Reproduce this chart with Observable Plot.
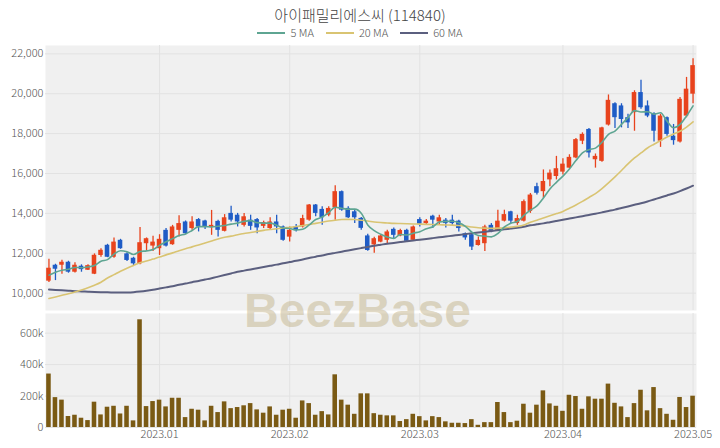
<!DOCTYPE html>
<html>
<head>
<meta charset="utf-8">
<script src="https://cdn.jsdelivr.net/npm/d3@7"></script>
<script src="https://cdn.jsdelivr.net/npm/@observablehq/plot@0.6"></script>
<style>
  body { margin: 0; background: #fff; }
  #wrap { position: relative; width: 720px; height: 448px; overflow: hidden; font-family: "Noto Sans CJK KR", "Noto Sans", sans-serif; }
  #title { position: absolute; top: 4px; left: 0; width: 720px; text-align: center; font-size: 15px; line-height: 22px; color: #444; font-weight: 300; }
  #legend { position: absolute; top: 25px; left: 0; width: 720px; display: flex; justify-content: center; gap: 12px; font-size: 11px; line-height: 14px; color: #555; font-weight: 300; }
  #legend .sw { display: inline-block; width: 28px; height: 2px; vertical-align: middle; margin-right: 5px; position: relative; top: -1px; }
  #charts { position: absolute; top: 42px; left: 0; }
  #charts svg { display: block; }
  #mark { position: absolute; left: 0; width: 715px; top: 287px; text-align: center; font-family: "Liberation Sans", Arial, sans-serif; font-weight: bold; font-size: 48px; line-height: 48px; color: rgba(195, 180, 140, 0.5); pointer-events: none; }
</style>
</head>
<body>
<div id="wrap">
  <div id="title">아이패밀리에스씨 (114840)</div>
  <div id="legend"></div>
  <div id="charts"></div>
  <div id="mark">BeezBase</div>
</div>
<script>
// Trading calendar (KRX), 2022-12-07 .. 2023-05-02
const firstDay = "2022-12-07";
const lastDay = "2023-05-02";
const holidays = ["2022-12-30", "2023-01-23", "2023-01-24", "2023-03-01", "2023-05-01"];

// Daily prices (KRW)
const open = [
  10600, 11400, 11400, 11550, 11050, 11350, 11150, 10950, 11890, 12400,
  11800, 12650, 11970, 11750, 11470, 12480, 12360, 12230, 13150, 12430,
  13150, 13570, 13240, 13690, 13620, 13300, 13600, 13100, 14000, 13910,
  13400, 13660, 13690, 13350, 13240, 13570, 13320, 12810, 13320, 13320,
  13660, 14420, 14200, 13910, 14280, 15090, 14250, 14080, 13750, 12870,
  12420, 12560, 12650, 13200, 12870, 13150, 12650, 13690, 13490, 13860,
  13570, 13660, 13660, 13610, 12980, 12930, 12390, 12480, 13400, 13150,
  13610, 14080, 13490, 13610, 14100, 15340, 15090, 15680, 15850, 16070,
  16270, 16780, 17620, 18210, 16690, 16610, 18430, 19500, 19390, 18800,
  19050, 20060, 19390, 19000, 17620, 18800, 17870, 17580, 18880, 19980
];
const high = [
  11700, 11450, 11650, 11600, 11520, 11420, 11420, 11970, 12230, 12450,
  12770, 12700, 12020, 11800, 13290, 12770, 12850, 12930, 13240, 13400,
  13880, 13620, 13830, 13740, 13660, 14150, 13650, 13940, 14360, 14000,
  14000, 13910, 13740, 13610, 13780, 13910, 13370, 13320, 13440, 13910,
  14450, 14450, 14330, 14330, 15390, 15120, 14330, 14160, 13800, 12950,
  12800, 12900, 13150, 13270, 13200, 13200, 13370, 13780, 13690, 13910,
  13910, 13740, 13910, 13660, 13020, 12980, 12820, 13400, 13490, 14160,
  14160, 14110, 13910, 14670, 15000, 15510, 16180, 16180, 16860, 16740,
  16940, 17750, 18040, 18260, 16980, 18320, 19940, 19550, 19500, 18970,
  20150, 20680, 19640, 19050, 18970, 18830, 18460, 19810, 20820, 21750
];
const low = [
  10540, 10630, 10950, 11000, 11010, 11050, 11130, 10930, 11800, 11780,
  11750, 12200, 11590, 11380, 11420, 12140, 12090, 11890, 12310, 12400,
  12820, 12930, 13150, 13070, 13190, 12900, 12820, 13070, 13570, 13320,
  13320, 13150, 12980, 13240, 13150, 12980, 12600, 12560, 13070, 13270,
  13610, 13830, 13400, 13830, 13660, 14110, 13740, 13490, 13150, 12100,
  12000, 12530, 12480, 12730, 12830, 12560, 12600, 13320, 13400, 13240,
  13400, 13270, 13400, 13070, 12650, 12140, 12360, 12090, 13030, 13100,
  13570, 13490, 13400, 13570, 14000, 14920, 14750, 15340, 15680, 15930,
  16240, 16740, 17450, 16780, 16270, 16570, 18380, 18260, 18290, 18260,
  18120, 19220, 18800, 17580, 17310, 17870, 17420, 17530, 18800, 19500
];
const close = [
  11250, 11200, 11550, 11050, 11400, 11180, 11380, 11900, 12150, 11800,
  12560, 12230, 11640, 11470, 12530, 12730, 12560, 12700, 12360, 13320,
  13490, 12980, 13570, 13320, 13320, 13400, 13150, 13780, 13660, 13570,
  13830, 13350, 13270, 13540, 13570, 13320, 12650, 13150, 13150, 13740,
  14420, 14000, 13780, 14250, 15090, 14160, 13780, 13780, 13250, 12140,
  12730, 12870, 13070, 12900, 13140, 12600, 13320, 13460, 13610, 13660,
  13780, 13490, 13490, 13240, 12770, 12310, 12650, 13320, 13070, 13610,
  13940, 13610, 13740, 14590, 14920, 15010, 15600, 16020, 16240, 16470,
  16810, 17700, 17960, 17030, 16860, 18290, 19670, 18800, 18710, 18540,
  20060, 19300, 18880, 18120, 18880, 17960, 17650, 19720, 20230, 21410
];
// Daily volume (shares)
const volume = [
  340000, 190000, 174000, 70000, 78000, 59000, 44000, 161000, 80000, 129000,
  135000, 86000, 135000, 42000, 685000, 133000, 165000, 174000, 131000, 186000,
  186000, 63000, 116000, 110000, 42000, 135000, 95000, 163000, 120000, 127000,
  138000, 152000, 112000, 91000, 131000, 78000, 110000, 116000, 59000, 169000,
  152000, 78000, 101000, 80000, 335000, 174000, 142000, 84000, 214000, 214000,
  88000, 78000, 74000, 74000, 38000, 50000, 84000, 69000, 42000, 69000,
  63000, 36000, 27000, 27000, 25000, 50000, 14000, 31000, 31000, 159000,
  95000, 31000, 40000, 148000, 91000, 142000, 233000, 150000, 135000, 103000,
  205000, 197000, 116000, 195000, 180000, 180000, 276000, 154000, 131000, 63000,
  152000, 237000, 106000, 254000, 120000, 84000, 46000, 191000, 127000, 199000
];
// Moving averages of the close
const ma5 = [
  10900, 11050, 11150, 11200, 11290, 11276, 11312, 11382, 11602, 11682,
  11958, 12128, 12076, 11940, 12086, 12120, 12186, 12398, 12576, 12734,
  12886, 12970, 13144, 13336, 13336, 13318, 13352, 13394, 13462, 13512,
  13598, 13638, 13536, 13512, 13512, 13410, 13270, 13246, 13168, 13202,
  13422, 13692, 13818, 14038, 14308, 14256, 14212, 14212, 14012, 13422,
  13136, 12954, 12812, 12742, 12942, 12916, 13006, 13084, 13226, 13330,
  13566, 13600, 13606, 13532, 13354, 13060, 12892, 12858, 12824, 12992,
  13318, 13510, 13594, 13898, 14160, 14374, 14772, 15228, 15558, 15868,
  16228, 16648, 17036, 17194, 17272, 17568, 17962, 18130, 18466, 18802,
  19156, 19082, 19098, 18980, 19048, 18628, 18298, 18466, 18888, 19394
];
const ma20 = [
  9730, 9810, 9890, 9970, 10060, 10160, 10270, 10400, 10550, 10760,
  10930, 11100, 11250, 11390, 11520, 11610, 11710, 11810, 11920, 12020,
  12130, 12230, 12320, 12420, 12520, 12620, 12720, 12800, 12860, 12930,
  12990, 13040, 13100, 13150, 13190, 13230, 13270, 13300, 13340, 13390,
  13440, 13500, 13560, 13620, 13660, 13690, 13700, 13690, 13660, 13620,
  13570, 13540, 13520, 13500, 13490, 13480, 13470, 13460, 13450, 13440,
  13430, 13420, 13410, 13390, 13360, 13320, 13280, 13260, 13250, 13260,
  13280, 13310, 13350, 13420, 13560, 13660, 13770, 13880, 13990, 14100,
  14260, 14420, 14600, 14800, 14990, 15240, 15530, 15830, 16150, 16480,
  16780, 17030, 17280, 17470, 17650, 17830, 17980, 18120, 18330, 18590
];
const ma60 = [
  10180, 10160, 10140, 10120, 10100, 10085, 10070, 10060, 10050, 10040,
  10035, 10030, 10035, 10050, 10080, 10120, 10170, 10230, 10290, 10350,
  10420, 10480, 10550, 10610, 10680, 10750, 10830, 10910, 10990, 11070,
  11130, 11190, 11250, 11310, 11370, 11430, 11500, 11560, 11620, 11690,
  11760, 11830, 11890, 11960, 12020, 12080, 12140, 12200, 12260, 12320,
  12380, 12430, 12480, 12520, 12560, 12600, 12640, 12680, 12720, 12760,
  12800, 12840, 12880, 12920, 12960, 13000, 13040, 13080, 13120, 13160,
  13200, 13240, 13280, 13330, 13400, 13450, 13500, 13560, 13620, 13680,
  13740, 13800, 13860, 13920, 13980, 14050, 14120, 14190, 14270, 14350,
  14430, 14510, 14600, 14700, 14800, 14900, 15000, 15120, 15250, 15390
];
const priceTicks = [10000, 12000, 14000, 16000, 18000, 20000, 22000];
const volumeTicks = [0, 200000, 400000, 600000];
const series = [
  {name: "5 MA", key: "ma5", color: "#5ea592"},
  {name: "20 MA", key: "ma20", color: "#d9c472"},
  {name: "60 MA", key: "ma60", color: "#5b5f7f"}
];

// Weekdays between the two dates, minus exchange holidays
function tradingDays(from, to, closed) {
  const out = [];
  const end = new Date(to + "T00:00:00Z");
  for (let d = new Date(from + "T00:00:00Z"); d <= end; d.setUTCDate(d.getUTCDate() + 1)) {
    const s = d.toISOString().slice(0, 10);
    const wd = d.getUTCDay();
    if (wd !== 0 && wd !== 6 && !closed.includes(s)) out.push(s);
  }
  return out;
}
const dates = tradingDays(firstDay, lastDay, holidays);
const rows = dates.map((date, i) => ({
  date, open: open[i], high: high[i], low: low[i], close: close[i], volume: volume[i],
  ma5: ma5[i], ma20: ma20[i], ma60: ma60[i], up: close[i] >= open[i]
}));
const monthStarts = dates.filter((d, i) => i > 0 && d.slice(0, 7) !== dates[i - 1].slice(0, 7));
const monthLabel = d => d.slice(0, 4) + "." + d.slice(5, 7);

const UP = "#e8431d", DOWN = "#1f5cc6", VOL = "#7a5a14";
const BG = "#f0f0f0", GRID = "#e2e2e2";
const xScale = {type: "band", domain: dates, paddingInner: 0.3, paddingOuter: 0.18, label: null};
const common = {
  width: 720, marginLeft: 45, marginRight: 24,
  style: {fontFamily: "'Noto Sans CJK KR', 'Noto Sans', sans-serif", fontSize: "11px", fontWeight: 300, color: "#555", background: "transparent"}
};

const priceChart = Plot.plot({
  ...common,
  height: 269, marginTop: 3, marginBottom: 1,
  x: {...xScale, axis: null},
  y: {domain: [9130, 22420], axis: null, label: null},
  marks: [
    Plot.frame({fill: BG, stroke: null}),
    Plot.gridY(priceTicks, {stroke: GRID, strokeOpacity: 1}),
    Plot.gridX(monthStarts, {stroke: GRID, strokeOpacity: 1}),
    Plot.axisY(priceTicks, {tickSize: 0, tickPadding: 2, label: null, tickFormat: d3.format(",")}),
    Plot.ruleX(rows, {x: "date", y1: "low", y2: "high", stroke: d => d.up ? UP : DOWN, strokeWidth: 1.3}),
    Plot.barY(rows, {x: "date", y1: "open", y2: "close", fill: d => d.up ? UP : DOWN}),
    ...series.slice().reverse().map(s =>
      Plot.lineY(rows, {x: "date", y: s.key, stroke: s.color, strokeWidth: s.key === "ma60" ? 2 : 1.6, curve: "monotone-x"}))
  ]
});

const volumeChart = Plot.plot({
  ...common,
  height: 137, marginTop: 2, marginBottom: 21,
  x: {...xScale},
  y: {domain: [0, 725000], label: null},
  marks: [
    Plot.frame({fill: BG, stroke: null}),
    Plot.gridY(volumeTicks, {stroke: GRID, strokeOpacity: 1}),
    Plot.gridX(monthStarts, {stroke: GRID, strokeOpacity: 1}),
    Plot.axisY(volumeTicks, {tickSize: 0, tickPadding: 2, label: null, tickFormat: d => d === 0 ? "0" : d / 1000 + "k"}),
    Plot.axisX(monthStarts, {tickSize: 0, tickPadding: 3, label: null, tickFormat: monthLabel}),
    Plot.barY(rows, {x: "date", y: "volume", fill: VOL})
  ]
});

const charts = document.getElementById("charts");
charts.append(priceChart, volumeChart);
charts.style.height = "406px";

const legend = document.getElementById("legend");
for (const s of series) {
  const item = document.createElement("span");
  const sw = document.createElement("span");
  sw.className = "sw";
  sw.style.background = s.color;
  item.append(sw, s.name);
  legend.append(item);
}
</script>
</body>
</html>
